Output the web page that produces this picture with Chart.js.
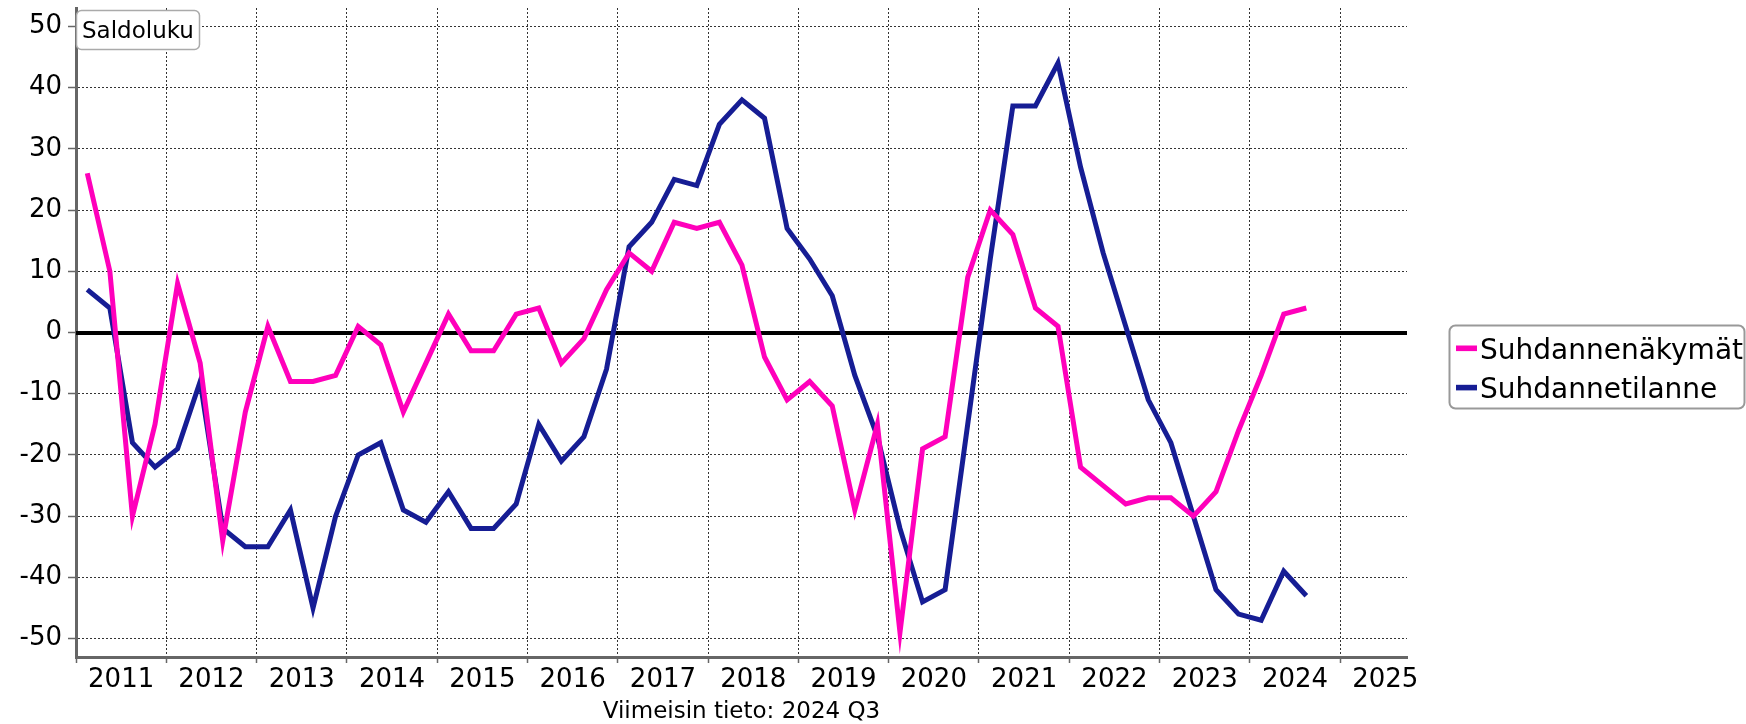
<!DOCTYPE html>
<html>
<head>
<meta charset="utf-8">
<script src="https://cdn.jsdelivr.net/npm/chart.js@4.4.1/dist/chart.umd.min.js"></script>
<style>
html,body{margin:0;padding:0;background:#fff;}
#wrap{width:1746px;height:724px;position:relative;}
canvas{display:block;}
</style>
</head>
<body>
<div id="wrap"><canvas id="c" width="1746" height="724"></canvas></div>
<script>
// ---- Data ----
const quarters = [
  '2011 Q1','2011 Q2','2011 Q3','2011 Q4',
  '2012 Q1','2012 Q2','2012 Q3','2012 Q4',
  '2013 Q1','2013 Q2','2013 Q3','2013 Q4',
  '2014 Q1','2014 Q2','2014 Q3','2014 Q4',
  '2015 Q1','2015 Q2','2015 Q3','2015 Q4',
  '2016 Q1','2016 Q2','2016 Q3','2016 Q4',
  '2017 Q1','2017 Q2','2017 Q3','2017 Q4',
  '2018 Q1','2018 Q2','2018 Q3','2018 Q4',
  '2019 Q1','2019 Q2','2019 Q3','2019 Q4',
  '2020 Q1','2020 Q2','2020 Q3','2020 Q4',
  '2021 Q1','2021 Q2','2021 Q3','2021 Q4',
  '2022 Q1','2022 Q2','2022 Q3','2022 Q4',
  '2023 Q1','2023 Q2','2023 Q3','2023 Q4',
  '2024 Q1','2024 Q2','2024 Q3'
];
const suhdannenakymat = [
  26, 10, -30, -15,
  8, -5, -34, -13,
  1, -8, -8, -7,
  1, -2, -13, -5,
  3, -3, -3, 3,
  4, -5, -1, 7,
  13, 10, 18, 17,
  18, 11, -4, -11,
  -8, -12, -29, -15,
  -49, -19, -17, 9,
  20, 16, 4, 1,
  -22, -25, -28, -27,
  -27, -30, -26, -16,
  -7, 3, 4
];
const suhdannetilanne = [
  7, 4, -18, -22,
  -19, -8, -32, -35,
  -35, -29, -45, -30,
  -20, -18, -29, -31,
  -26, -32, -32, -28,
  -15, -21, -17, -6,
  14, 18, 25, 24,
  34, 38, 35, 17,
  12, 6, -7, -17,
  -32, -44, -42, -15,
  12, 37, 37, 44,
  27, 13, 1, -11,
  -18, -30, -42, -46,
  -47, -39, -43
];
const seriesNames = ['Suhdannenäkymät', 'Suhdannetilanne'];
const yearLabels = ['2011','2012','2013','2014','2015','2016','2017','2018','2019','2020','2021','2022','2023','2024','2025'];
const yTickValues = [-50, -40, -30, -20, -10, 0, 10, 20, 30, 40, 50];
const unitLabel = 'Saldoluku';
const footnote = 'Viimeisin tieto: 2024 Q3';

// ---- Styling ----
const PINK = '#ff00bb';
const NAVY = '#161d94';
const FONT = "'DejaVu Sans', Verdana, sans-serif";
const X_MIN = 2011, X_MAX = 2025.74;
const GRID = '#333';

function qPos(label) {
  const parts = label.split(' Q');
  return Number(parts[0]) + (Number(parts[1]) - 0.5) / 4;
}
function toPoints(vals) {
  return quarters.map((q, i) => ({ x: qPos(q), y: vals[i] }));
}

Chart.defaults.font.family = FONT;
Chart.defaults.color = '#000';

const zeroLine = {
  id: 'zeroLine',
  beforeDatasetsDraw(chart) {
    const { ctx, chartArea: a, scales } = chart;
    const py = Math.round(scales.y.getPixelForValue(0));
    ctx.save();
    ctx.strokeStyle = '#000';
    ctx.lineWidth = 4;
    ctx.beginPath();
    ctx.moveTo(a.left, py);
    ctx.lineTo(a.right, py);
    ctx.stroke();
    ctx.restore();
  }
};

function rrect(ctx, x, y, w, h, r) {
  ctx.beginPath();
  ctx.moveTo(x + r, y);
  ctx.lineTo(x + w - r, y);
  ctx.arcTo(x + w, y, x + w, y + r, r);
  ctx.lineTo(x + w, y + h - r);
  ctx.arcTo(x + w, y + h, x + w - r, y + h, r);
  ctx.lineTo(x + r, y + h);
  ctx.arcTo(x, y + h, x, y + h - r, r);
  ctx.lineTo(x, y + r);
  ctx.arcTo(x, y, x + r, y, r);
  ctx.closePath();
}

const boxes = {
  id: 'boxes',
  afterDraw(chart) {
    const ctx = chart.ctx;
    ctx.save();
    // unit label box
    rrect(ctx, 76.5, 10.5, 123, 39, 5);
    ctx.fillStyle = '#fff';
    ctx.fill();
    ctx.strokeStyle = '#aaa';
    ctx.lineWidth = 1.5;
    ctx.stroke();
    ctx.fillStyle = '#000';
    ctx.font = '23px ' + FONT;
    ctx.textBaseline = 'alphabetic';
    ctx.textAlign = 'left';
    ctx.fillText(unitLabel, 82, 38.3);

    // legend box
    rrect(ctx, 1449.5, 325.5, 295, 83, 6);
    ctx.fillStyle = '#fff';
    ctx.fill();
    ctx.strokeStyle = '#999';
    ctx.lineWidth = 2;
    ctx.stroke();
    ctx.font = '28px ' + FONT;
    chart.data.datasets.forEach((ds, i) => {
      const cy = 348.3 + i * 39.3;
      ctx.fillStyle = ds.borderColor;
      ctx.fillRect(1456, cy - 2.8, 21, 5.6);
      ctx.fillStyle = '#000';
      ctx.fillText(ds.label, 1480, cy + 10.2);
    });
    ctx.restore();
  }
};

new Chart(document.getElementById('c'), {
  type: 'line',
  data: {
    datasets: [
      { label: seriesNames[0], data: toPoints(suhdannenakymat), borderColor: PINK, backgroundColor: PINK,
        borderWidth: 5, pointRadius: 0, tension: 0, fill: false },
      { label: seriesNames[1], data: toPoints(suhdannetilanne), borderColor: NAVY, backgroundColor: NAVY,
        borderWidth: 5, pointRadius: 0, tension: 0, fill: false }
    ]
  },
  options: {
    responsive: false,
    animation: false,
    parsing: false,
    layout: { padding: { top: 8, right: 339, left: 0, bottom: 0 } },
    plugins: { legend: { display: false }, tooltip: { enabled: false }, title: { display: false } },
    scales: {
      x: {
        type: 'linear',
        min: X_MIN,
        max: X_MAX,
        afterBuildTicks(s) {
          const t = [];
          yearLabels.forEach((l, i) => { t.push({ value: X_MIN + i }); t.push({ value: X_MIN + i + 0.5 }); });
          s.ticks = t;
        },
        afterFit(s) { s.height = 67; s.paddingLeft = 0; s.paddingRight = 0; },
        ticks: {
          autoSkip: false, maxRotation: 0, minRotation: 0, padding: 2,
          color: '#000', font: { family: FONT, size: 26 },
          callback(v) {
            if (Math.abs(v % 1 - 0.5) < 1e-6) return yearLabels[Math.floor(v) - X_MIN];
            return '';
          }
        },
        grid: {
          color: c => (c.tick && Math.abs(c.tick.value % 1) < 1e-6) ? GRID : 'rgba(0,0,0,0)',
          lineWidth: 1,
          tickLength: 6,
          tickColor: c => (c.tick && Math.abs(c.tick.value % 1) < 1e-6) ? '#666' : 'rgba(0,0,0,0)',
          tickWidth: 1.5
        },
        border: { display: true, color: '#666', width: 3, dash: [2, 2] },
        title: {
          display: true, text: footnote, color: '#000',
          font: { family: FONT, size: 23, lineHeight: 1 },
          padding: { top: 0, bottom: 0 }
        }
      },
      y: {
        min: -53,
        max: 53,
        afterBuildTicks(s) { s.ticks = yTickValues.map(v => ({ value: v })); },
        afterFit(s) { s.width = 76; s.paddingTop = 0; s.paddingBottom = 0; },
        ticks: { padding: 6, color: '#000', font: { family: FONT, size: 26 } },
        grid: { color: GRID, lineWidth: 1, tickLength: 8, tickColor: '#666', tickWidth: 1.5 },
        border: { display: true, color: '#666', width: 3, dash: [2, 2] }
      }
    }
  },
  plugins: [zeroLine, boxes]
});
</script>
</body>
</html>
